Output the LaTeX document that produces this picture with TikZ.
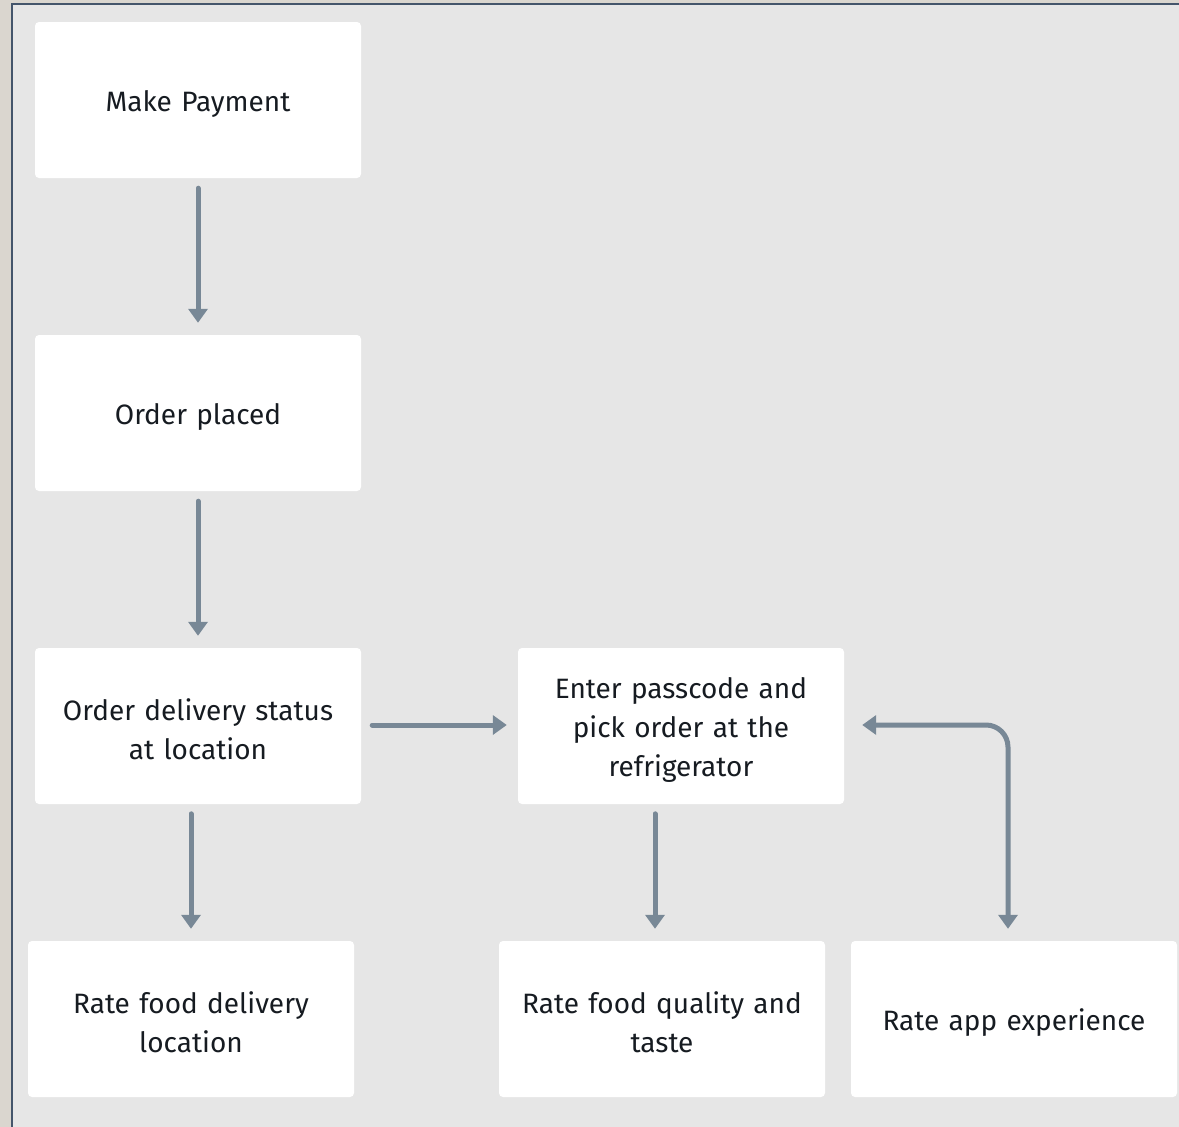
\documentclass[tikz,border=0pt]{standalone}
\usepackage{fontspec}
\setmainfont{Fira Sans}
\usetikzlibrary{arrows.meta,calc}
\definecolor{bgout}{HTML}{DAD6CF}
\definecolor{panel}{HTML}{E6E6E6}
\definecolor{frame}{HTML}{44556B}
\definecolor{arr}{HTML}{788896}
\definecolor{txt}{HTML}{161B21}
\tikzset{
  box/.style={fill=white, rounded corners=4pt, minimum width=326pt, minimum height=156pt,
    inner sep=0pt, align=center, text width=310pt, text=txt,
    font=\fontsize{28}{39}\selectfont,
    execute at begin node={\rule{0pt}{28pt}}},
  flow/.style={draw=arr, line width=5pt, line cap=round,
    -{Triangle[width=19pt,length=14pt]}},
  flow2/.style={draw=arr, line width=5pt,
    {Triangle[width=19pt,length=14pt]}-{Triangle[width=19pt,length=14pt]}},
}
\begin{document}
\begin{tikzpicture}[x=1pt,y=-1pt]
\useasboundingbox (0,0) rectangle (1179,1127);
\fill[bgout] (0,0) rectangle (1179,1127);
\fill[panel] (12,4) rectangle (1185,1135);
\draw[frame, line width=2pt] (12,1135) -- (12,4) -- (1185,4);

\node[box] (pay) at (198,100) {Make Payment};
\node[box] (placed) at (198,413) {Order placed};
\node[box] (status) at (198,726) {Order delivery status\\at location};
\node[box] (enter) at (681,726) {Enter passcode and\\pick order at the\\refrigerator};
\node[box] (rdel) at (191,1019) {Rate food delivery\\location};
\node[box] (rqual) at (662,1019) {Rate food quality and\\taste};
\node[box] (rapp) at (1014,1019) {Rate app experience};

\draw[flow] ($(pay.south)+(0,10)$) -- ($(placed.north)+(0,-12)$);
\draw[flow] ($(placed.south)+(0,10)$) -- ($(status.north)+(0,-12)$);
\draw[flow] ($(rdel.north)+(0,-127)$) -- ($(rdel.north)+(0,-12)$);
\draw[flow] ($(rqual.north)+(-7,-127)$) -- ($(rqual.north)+(-7,-12)$);
\draw[flow] ($(status.east)+(11,-1)$) -- ($(enter.west)+(-11,-1)$);
\coordinate (bstart) at ($(enter.east)+(18,-1)$);
\coordinate (bend) at ($(rapp.north)+(-6,-12)$);
\draw[flow2, rounded corners=22pt] (bstart) -| (bend);
\end{tikzpicture}
\end{document}
